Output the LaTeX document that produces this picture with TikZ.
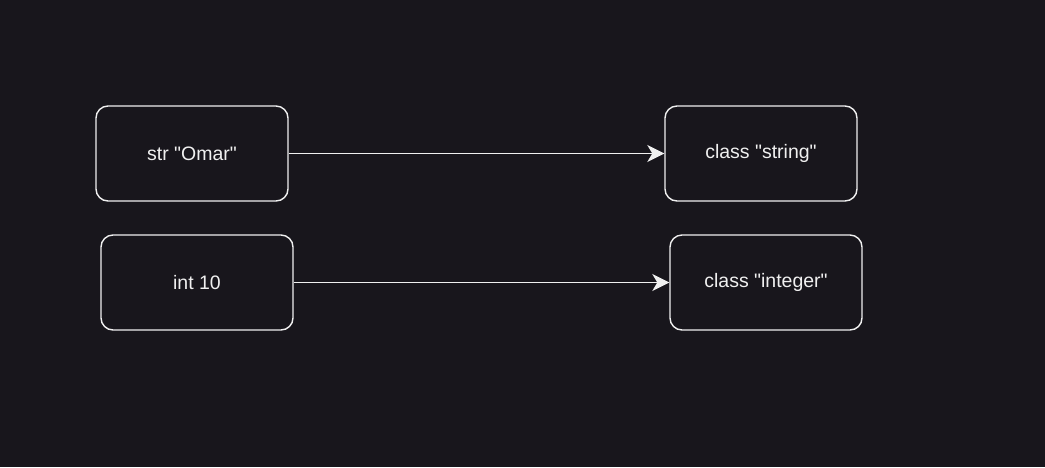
\documentclass[tikz,border=0pt]{standalone}
\usepackage{fontspec}
\newfontfamily\lsans{Liberation Sans}
\usetikzlibrary{arrows.meta}
\definecolor{bg}{HTML}{18161C}
\definecolor{fg}{HTML}{F0F0F0}
\tikzset{
  box/.style={draw=fg, fill=bg, line width=1.4pt, rounded corners=12pt,
    minimum width=192pt, minimum height=95pt, inner sep=0pt,
    text=fg, font=\lsans\fontsize{19.5}{22}\selectfont},
  conn/.style={draw=fg, line width=1.5pt, -{Stealth[length=17pt,width=17pt,inset=5pt]}}
}
\begin{document}
\begin{tikzpicture}[x=1pt,y=-1pt]
\fill[bg] (0,0) rectangle (1045,467);
\useasboundingbox (0,0) rectangle (1045,467);
\node[box] (str) at (192,153.5) {str "Omar"};
\node[box] (cstr) at (761,153.5) {class "string"};
\node[box] (int) at (197,282.5) {int 10};
\node[box] (cint) at (766,282.5) {class "integer"};
\draw[conn] (str.east) -- (cstr.west);
\draw[conn] (int.east) -- (cint.west);
\end{tikzpicture}
\end{document}
